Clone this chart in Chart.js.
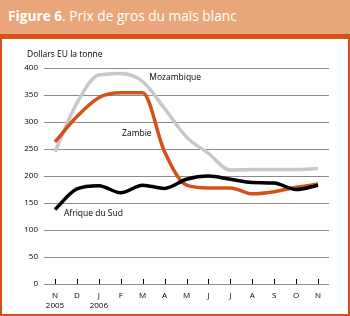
<!DOCTYPE html>
<html>
<head>
<meta charset="utf-8">
<script src="https://cdn.jsdelivr.net/npm/chart.js@4"></script>
<style>
  body { margin: 0; background: #fff; }
  #wrap { position: relative; width: 350px; height: 316px; overflow: hidden; }
  #head { position: absolute; left: 0; top: 0; width: 350px; height: 34px; background: #E9A67B;
          border-bottom: 5px solid #D5501B; box-sizing: content-box; }
  #head span { position: absolute; left: 8px; top: 6px; color: #fff; font-family: "Open Sans", sans-serif;
          font-size: 13.7px; white-space: nowrap; }
  #frame { position: absolute; left: 0; top: 39px; width: 346px; height: 275px;
          border-left: 2px solid #D5501B; border-right: 2px solid #D5501B; border-bottom: 2px solid #D5501B; }
  canvas { position: absolute; left: 0; top: 0; }
</style>
</head>
<body>
<div id="wrap">
  <div id="head"><span><b>Figure 6</b>. Prix de gros du maïs blanc</span></div>
  <div id="frame"></div>
  <canvas id="chart" width="350" height="316"></canvas>
</div>
<script>
document.addEventListener("DOMContentLoaded", function () {
    const months = [['N', '2005'], 'D', ['J', '2006'], 'F', 'M', 'A', 'M', 'J', 'J', 'A', 'S', 'O', 'N'];
    const mozambique = [245, 335, 387, 390, 375, 325, 272, 242, 211, 212, 212, 212, 214];
    const zambie = [263, 310, 345, 354, 354, 245, 183, 178, 178, 167, 171, 179, 185];
    const afriqueDuSud = [138, 176, 182, 169, 183, 177, 194, 200, 194, 188, 187, 175, 183];
    const yTicks = [0, 50, 100, 150, 200, 250, 300, 350, 400];

    const font = { family: 'Open Sans, sans-serif', size: 8 };

    const extras = {
        id: 'extras',
        afterDraw(chart) {
            const c = chart.ctx, x = chart.scales.x, y = chart.scales.y;
            c.save();
            // short tick marks above the zero line
            c.strokeStyle = '#000';
            c.lineWidth = 1;
            months.forEach(function (m, i) {
                const px = Math.round(x.getPixelForValue(i)) + 0.5;
                c.beginPath();
                c.moveTo(px, y.bottom - 5);
                c.lineTo(px, y.bottom);
                c.stroke();
            });
            c.fillStyle = '#000';
            c.font = '8.5px "Open Sans", sans-serif';
            c.textBaseline = 'middle';
            c.textAlign = 'left';
            c.fillText('Dollars EU la tonne', 27, 55);
            c.fillText('Mozambique', x.getPixelForValue(4.3), y.getPixelForValue(383));
            c.fillText('Zambie', x.getPixelForValue(3.06), y.getPixelForValue(278));
            c.fillText('Afrique du Sud', x.getPixelForValue(0.41), y.getPixelForValue(131));
            c.restore();
        }
    };

    new Chart(document.getElementById('chart').getContext('2d'), {
        type: 'line',
        data: {
            labels: months,
            datasets: [
                { label: 'Afrique du Sud', data: afriqueDuSud, borderColor: '#000000' },
                { label: 'Zambie', data: zambie, borderColor: '#D5501B' },
                { label: 'Mozambique', data: mozambique, borderColor: '#C8C8C8' }
            ]
        },
        options: {
            responsive: false,
            animation: false,
            layout: { padding: { left: 0, top: 68, right: 21, bottom: 0 } },
            elements: {
                line: { borderWidth: 3.5, cubicInterpolationMode: 'monotone', fill: false, borderCapStyle: 'butt' },
                point: { radius: 0 }
            },
            plugins: { legend: { display: false }, tooltip: { enabled: false } },
            scales: {
                x: {
                    offset: true,
                    grid: { display: false, drawTicks: false },
                    border: { display: false },
                    ticks: { color: '#000', font: font, padding: 7, maxRotation: 0, autoSkip: false },
                    afterFit: function (s) { s.height = 32; }
                },
                y: {
                    min: 0,
                    max: 400,
                    afterBuildTicks: function (s) { s.ticks = yTicks.map(function (v) { return { value: v }; }); },
                    grid: { color: '#8C8C8C', lineWidth: 1, drawTicks: false },
                    border: { display: false },
                    ticks: { color: '#000', font: font, padding: 6 },
                    afterFit: function (s) { s.width = 44; }
                }
            }
        },
        plugins: [extras]
    });
});
</script>
</body>
</html>
